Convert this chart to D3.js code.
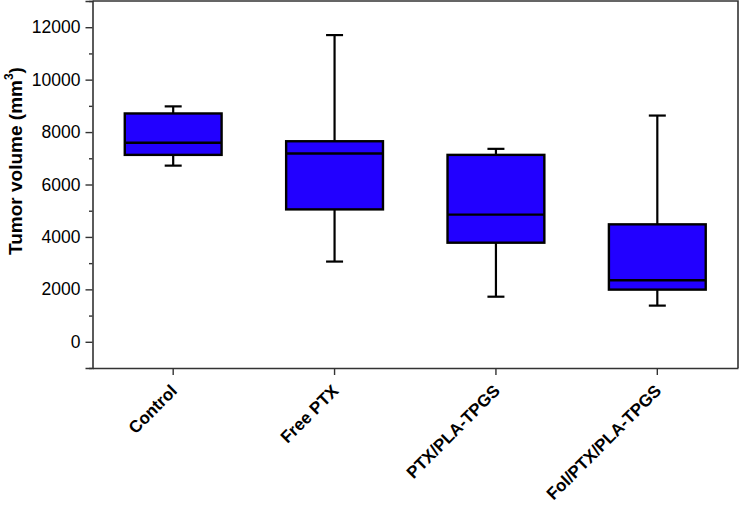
<!DOCTYPE html>
<html>
<head>
<meta charset="utf-8">
<script src="https://cdn.jsdelivr.net/npm/d3@7"></script>
<style>
  body { margin: 0; background: #fff; }
  svg { display: block; font-family: "Liberation Sans", Arial, sans-serif; }
</style>
</head>
<body>
<div id="chart"></div>
<script>
// groups and their box statistics (tumor volume, mm3)
const groups = ['Control', 'Free PTX', 'PTX/PLA-TPGS', 'Fol/PTX/PLA-TPGS'];
const whiskerLow = [6720, 3060, 1720, 1380];
const q1 = [7130, 5050, 3780, 1990];
const median = [7590, 7180, 4850, 2350];
const q3 = [8710, 7650, 7130, 4480];
const whiskerHigh = [8980, 11700, 7360, 8630];
const yTicks = [0, 2000, 4000, 6000, 8000, 10000, 12000];

const width = 740, height = 505;
const margin = {top: 1, right: 2, bottom: 137, left: 92.5};

const svg = d3.select('#chart').append('svg')
  .attr('width', width)
  .attr('height', height);

const x = d3.scaleBand()
  .domain(groups)
  .range([margin.left, width - margin.right])
  .padding(0);

const y = d3.scaleLinear()
  .domain([-1000, 13000])
  .range([height - margin.bottom, margin.top]);

const boxes = groups.map((g, i) => ({
  g, lo: whiskerLow[i], q1: q1[i], med: median[i], q3: q3[i], hi: whiskerHigh[i]
}));

const boxW = x.bandwidth() * 0.6;
const capW = 17;

const gBox = svg.append('g')
  .selectAll('g')
  .data(boxes).enter()
  .append('g')
  .attr('transform', d => `translate(${x(d.g) + x.bandwidth() / 2},0)`);

// whiskers
gBox.append('line')
  .attr('y1', d => y(d.hi)).attr('y2', d => y(d.q3))
  .attr('stroke', '#000').attr('stroke-width', 2.2);
gBox.append('line')
  .attr('y1', d => y(d.q1)).attr('y2', d => y(d.lo))
  .attr('stroke', '#000').attr('stroke-width', 2.2);
gBox.append('line')
  .attr('x1', -capW / 2).attr('x2', capW / 2)
  .attr('y1', d => y(d.hi)).attr('y2', d => y(d.hi))
  .attr('stroke', '#000').attr('stroke-width', 2.2);
gBox.append('line')
  .attr('x1', -capW / 2).attr('x2', capW / 2)
  .attr('y1', d => y(d.lo)).attr('y2', d => y(d.lo))
  .attr('stroke', '#000').attr('stroke-width', 2.2);

// boxes
gBox.append('rect')
  .attr('x', -boxW / 2)
  .attr('width', boxW)
  .attr('y', d => y(d.q3))
  .attr('height', d => y(d.q1) - y(d.q3))
  .attr('fill', '#2200ff')
  .attr('stroke', '#000')
  .attr('stroke-width', 2.4);

// medians
gBox.append('line')
  .attr('x1', -boxW / 2).attr('x2', boxW / 2)
  .attr('y1', d => y(d.med)).attr('y2', d => y(d.med))
  .attr('stroke', '#000').attr('stroke-width', 2.4);

// frame (top and right)
svg.append('path')
  .attr('d', `M${margin.left},${margin.top}H${width - margin.right}V${height - margin.bottom}`)
  .attr('fill', 'none')
  .attr('stroke', '#333')
  .attr('stroke-width', 1.6);

// y axis: minor ticks then major ticks with labels
svg.append('g')
  .attr('transform', `translate(${margin.left},0)`)
  .call(d3.axisLeft(y).tickValues(d3.range(-1000, 13001, 1000).filter(v => v % 2000 !== 0)).tickSize(3.5).tickFormat(''))
  .call(g => g.select('.domain').remove())
  .selectAll('line').attr('stroke', '#333').attr('stroke-width', 1.4);

const yAxis = svg.append('g')
  .attr('transform', `translate(${margin.left},0)`)
  .call(d3.axisLeft(y).tickValues(yTicks).tickSize(7).tickPadding(5).tickFormat(d3.format('d')));
yAxis.select('.domain').attr('stroke', '#333').attr('stroke-width', 1.6);
yAxis.selectAll('line').attr('stroke', '#333').attr('stroke-width', 1.4);
yAxis.selectAll('text')
  .attr('font-family', '"Liberation Sans", Arial, sans-serif')
  .attr('font-size', 17.5)
  .attr('fill', '#000');

// x axis
const xAxis = svg.append('g')
  .attr('transform', `translate(0,${height - margin.bottom})`)
  .call(d3.axisBottom(x).tickSize(7).tickSizeOuter(0));
xAxis.select('.domain').attr('stroke', '#333').attr('stroke-width', 1.6);
xAxis.selectAll('line').attr('stroke', '#333').attr('stroke-width', 1.4);
xAxis.selectAll('text')
  .attr('font-family', '"Liberation Sans", Arial, sans-serif')
  .attr('font-size', 17)
  .attr('font-weight', 'bold')
  .attr('fill', '#000')
  .attr('text-anchor', 'end')
  .attr('dy', null)
  .attr('y', 0)
  .attr('transform', 'translate(5,24) rotate(-45)');

// y axis title
const title = svg.append('text')
  .attr('transform', 'translate(22,161) rotate(-90)')
  .attr('text-anchor', 'middle')
  .attr('font-size', 19)
  .attr('font-weight', 'bold')
  .attr('fill', '#000');
title.append('tspan').text('Tumor volume (mm');
title.append('tspan').text('3').attr('font-size', 12).attr('dy', -9);
title.append('tspan').text(')').attr('dy', 9);
</script>
</body>
</html>
